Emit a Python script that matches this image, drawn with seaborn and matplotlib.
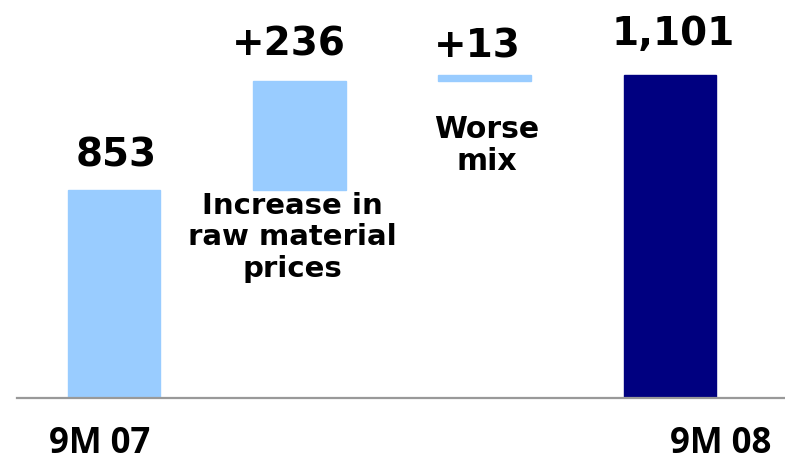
import pandas as pd
import numpy as np
import matplotlib
matplotlib.use("Agg")
import matplotlib.pyplot as plt
import seaborn as sns

# waterfall data
steps = ["9M 07", "Increase in\nraw material\nprices", "Worse\nmix", "9M 08"]
amounts = [853, 236, 13, 1101]
is_total = [True, False, False, True]
value_labels = ["853", "+236", "+13", "1,101"]
bar_colors = ["#99CCFF", "#99CCFF", "#99CCFF", "#000080"]

# bottoms for the floating bars
bottoms = []
running = 0
for amt, tot in zip(amounts, is_total):
    if tot:
        bottoms.append(0)
        running = amt
    else:
        bottoms.append(running)
        running += amt

df = pd.DataFrame({"step": steps, "amount": amounts})

sns.set_style("white")
plt.rcParams["font.family"] = ["DejaVu Sans"]
plt.rcParams["text.color"] = "black"

fig = plt.figure(figsize=(7.85, 4.62), dpi=100)
ax = fig.add_axes([17 / 785, 0.139, 1 - 17 / 785, 0.861])

sns.barplot(data=df, x="step", y="amount", order=steps, bottom=bottoms,
            width=0.5, errorbar=None, color=bar_colors[0], ax=ax)
for patch, c in zip(ax.patches, bar_colors):
    patch.set_facecolor(c)
    patch.set_edgecolor(c)

ax.set_xlim(-0.523, 3.62)
ax.set_ylim(403, 1264)

for s in ["top", "right", "left"]:
    ax.spines[s].set_visible(False)
ax.spines["bottom"].set_color("#999999")
ax.spines["bottom"].set_linewidth(1.6)
ax.set_xticks([])
ax.set_yticks([])
ax.set_xlabel("")
ax.set_ylabel("")

# value labels above bars
label_pos = [(0.01, 903), (0.944, 1143), (1.959, 1139), (3.017, 1167)]
for (xp, yp), txt in zip(label_pos, value_labels):
    ax.text(xp, yp, txt, ha="center", va="baseline", fontsize=28,
            fontweight="bold")

# step descriptions
ax.text(0.963, 848, steps[1], ha="center", va="top", fontsize=21,
        fontweight="bold", linespacing=1.15)
ax.text(2.01, 1014, steps[2], ha="center", va="top", fontsize=21.5,
        fontweight="bold", linespacing=1.12)

# period labels below axis
fig.text(100 / 785, 0.001, steps[0], ha="center", va="bottom",
         fontsize=25, fontweight="bold", family="Open Sans")
fig.text(721 / 785, 0.001, steps[3], ha="center", va="bottom",
         fontsize=25, fontweight="bold", family="Open Sans")

fig.savefig("out.png", dpi=100)
